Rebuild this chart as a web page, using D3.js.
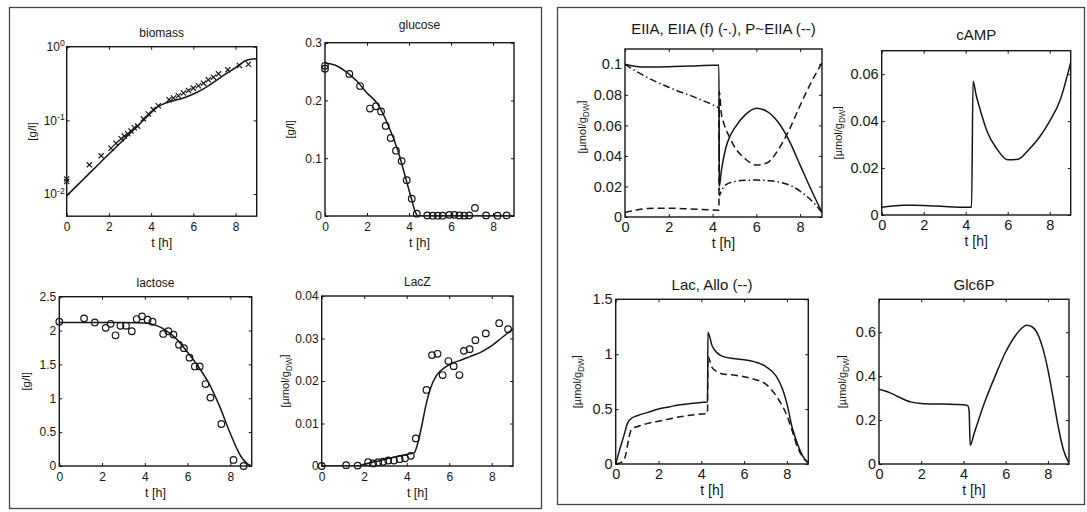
<!DOCTYPE html>
<html><head><meta charset="utf-8">
<script src="https://cdn.jsdelivr.net/npm/d3@7"></script>
<style>
body{margin:0;background:#fff;}
svg{display:block;font-family:"Liberation Sans",Arial,Helvetica,sans-serif;}
</style></head><body>
<svg id="c" width="1087" height="512"></svg>
<script>
// ---------------- data ----------------
const timeTicks = [0, 2, 4, 6, 8];

// biomass [g/l] (log scale)
const biomassObsT = [0,0,1.07,1.63,2.1,2.34,2.58,2.73,2.89,3.05,3.2,3.36,3.63,3.87,4.1,4.34,4.85,5.06,5.29,5.53,5.77,6.0,6.24,6.48,6.71,6.95,7.19,7.63,8.18,8.61];
const biomassObs  = [0.016,0.0148,0.0249,0.033,0.0418,0.0488,0.0564,0.0612,0.0659,0.0715,0.0793,0.0835,0.105,0.122,0.14,0.158,0.191,0.201,0.216,0.235,0.255,0.274,0.295,0.32,0.355,0.386,0.428,0.485,0.555,0.578];
const biomassFitT = [0,0.5,1,1.5,2,2.5,3,3.5,4,4.3,4.6,5,5.5,6,6.5,7,7.5,8,8.5,8.75,9];
const biomassFit  = [0.0095,0.0131,0.0182,0.0252,0.0349,0.0482,0.0667,0.092,0.127,0.152,0.168,0.183,0.2,0.228,0.27,0.335,0.42,0.52,0.65,0.675,0.685];
const biomassTicks = [0.01, 0.1, 1];

// glucose [g/l]
const glucoseObsT = [0,0,1.16,1.67,2.14,2.43,2.67,2.89,3.13,3.38,3.65,3.89,4.13,4.37,4.87,5.13,5.37,5.6,5.92,6.16,6.4,6.63,6.87,7.14,7.67,8.22,8.65];
const glucoseObs  = [0.26,0.255,0.246,0.225,0.186,0.19,0.181,0.156,0.135,0.113,0.095,0.062,0.03,0.004,0.001,0.0005,0.0005,0.0005,0.002,0.002,0.001,0.0005,0.001,0.014,0.001,0.0005,0.001];
const glucoseFitT = [0,0.5,1,1.5,2,2.5,3,3.5,3.9,4.1,4.3,4.45,5,9];
const glucoseFit  = [0.265,0.261,0.25,0.234,0.213,0.194,0.158,0.11,0.058,0.032,0.007,0,0,0];
const glucoseTicks = [0, 0.1, 0.2, 0.3];

// lactose [g/l]
const lactoseObsT = [0,1.16,1.66,2.17,2.4,2.63,2.86,3.12,3.39,3.62,3.87,4.13,4.36,4.86,5.1,5.34,5.6,5.83,6.09,6.34,6.57,6.84,7.07,7.58,8.15,8.62];
const lactoseObs  = [2.13,2.18,2.12,2.04,2.1,1.93,2.07,2.07,1.99,2.17,2.21,2.16,2.13,1.95,1.99,1.94,1.79,1.74,1.6,1.47,1.47,1.21,1.01,0.62,0.09,0.0];
const lactoseFitT = [0,1,2,3,4,4.5,5,5.5,6,6.5,7,7.5,8,8.5,8.8,9];
const lactoseFit  = [2.12,2.12,2.12,2.12,2.11,2.08,2.0,1.87,1.68,1.47,1.22,0.88,0.48,0.14,0.03,0.0];
const lactoseTicks = [0, 0.5, 1, 1.5, 2, 2.5];

// LacZ [umol/gDW]
const laczObsT = [0,1.15,1.69,2.18,2.42,2.66,2.89,3.13,3.4,3.67,3.92,4.19,4.43,4.93,5.19,5.45,5.69,5.96,6.21,6.48,6.69,6.96,7.23,7.72,8.35,8.77];
const laczObs  = [0,0.0002,0.0001,0.0009,0.0006,0.0009,0.001,0.0013,0.0013,0.0016,0.0018,0.0024,0.0065,0.0179,0.0261,0.0264,0.0214,0.0247,0.0235,0.0214,0.0271,0.0275,0.0296,0.0312,0.0336,0.0322];
const laczFitT = [0,1.7,2,2.5,3,3.5,4,4.35,4.5,4.7,4.9,5.1,5.4,5.8,6.2,6.6,7,7.5,8,8.5,9];
const laczFit  = [0,0,0.0004,0.001,0.0016,0.0022,0.0027,0.0031,0.005,0.0093,0.0142,0.018,0.0213,0.0232,0.0243,0.025,0.0258,0.0268,0.0283,0.0303,0.0322];
const laczTicks = [0, 0.01, 0.02, 0.03, 0.04];

// EIIA total (solid), EIIA free (-.), P~EIIA (--)
const eiiaT     = [0,0.25,0.5,1,1.5,2,3,4,4.29,4.31,4.4,4.6,4.8,5,5.5,6,6.5,7,7.5,8,8.5,9];
const eiiaTotal = [0.1,0.0992,0.0986,0.0982,0.0982,0.0984,0.0988,0.0993,0.0993,0.02,0.03,0.045,0.053,0.058,0.067,0.0712,0.069,0.062,0.05,0.034,0.018,0.003];
const eiiaFreeT = [0,0.5,1,1.5,2,2.5,3,3.5,4,4.29,4.31,4.4,4.6,5,5.5,6,6.5,7,7.5,8,8.5,9];
const eiiaFree  = [0.1,0.0955,0.0915,0.088,0.085,0.082,0.0795,0.0765,0.0735,0.071,0.014,0.017,0.021,0.0232,0.024,0.0242,0.0238,0.023,0.021,0.017,0.011,0.003];
const eiiaPT    = [0,0.5,1,2,3,4,4.29,4.31,4.4,4.5,4.75,5,5.5,6,6.5,7,7.5,8,8.5,9];
const eiiaP     = [0.003,0.0045,0.0055,0.0058,0.0052,0.0046,0.0045,0.082,0.068,0.062,0.053,0.046,0.038,0.034,0.0355,0.044,0.057,0.073,0.088,0.101];
const eiiaTicks = [0, 0.02, 0.04, 0.06, 0.08, 0.1];

// cAMP
const campT = [0,0.5,1,1.5,2,3,4,4.28,4.35,4.5,4.75,5,5.5,6,6.5,7,7.5,8,8.5,9];
const campV = [0.0033,0.0038,0.0042,0.0042,0.0041,0.0036,0.0033,0.0033,0.057,0.051,0.043,0.036,0.028,0.0235,0.0238,0.0278,0.033,0.04,0.049,0.065];
const campTicks = [0, 0.02, 0.04, 0.06];

// Lac (solid), Allo (--)
const lacT  = [0,0.2,0.4,0.55,0.7,1,1.5,2,2.5,3,3.5,4,4.29,4.31,4.5,4.75,5,5.5,6,6.5,7,7.5,7.8,8,8.25,8.5,8.75,9];
const lacV  = [0,0.14,0.27,0.37,0.41,0.44,0.47,0.5,0.52,0.54,0.55,0.56,0.565,1.2,1.08,1.01,0.98,0.96,0.95,0.93,0.89,0.8,0.68,0.55,0.33,0.18,0.07,0.01];
const alloT = [0,0.3,0.45,0.6,0.7,0.9,1,1.5,2,2.5,3,3.5,4,4.29,4.31,4.5,4.75,5,5.5,6,6.5,7,7.5,8,8.25,8.5,8.75,9];
const alloV = [0,0.02,0.07,0.22,0.3,0.335,0.34,0.37,0.39,0.41,0.43,0.445,0.455,0.46,0.98,0.88,0.84,0.82,0.81,0.795,0.77,0.73,0.62,0.44,0.3,0.15,0.06,0.01];
const lacTicks = [0, 0.5, 1, 1.5];

// Glc6P
const g6pT = [0,0.5,1,1.5,2,3,4,4.2,4.27,4.32,4.5,5,5.5,6,6.5,7,7.25,7.5,7.75,8,8.25,8.5,8.75,9];
const g6pV = [0.34,0.325,0.302,0.283,0.276,0.273,0.27,0.266,0.24,0.085,0.137,0.28,0.4,0.51,0.59,0.632,0.625,0.595,0.53,0.43,0.3,0.165,0.06,0.005];
const g6pTicks = [0, 0.2, 0.4, 0.6];

// ---------------- layout / style ----------------
const INK = "#161616";
const svg = d3.select("#c");

svg.append("rect").attr("x",9.5).attr("y",7.5).attr("width",532).attr("height",501)
  .attr("fill","none").attr("stroke","#444").attr("stroke-width",1.3);
svg.append("rect").attr("x",557.5).attr("y",7.5).attr("width",527).attr("height",497)
  .attr("fill","none").attr("stroke","#444").attr("stroke-width",1.3);

const zip = (a,b)=>a.map((v,i)=>[v,b[i]]);

function panel(o){
  const g = svg.append("g").attr("transform",`translate(${o.x},${o.y})`);
  const x = d3.scaleLinear().domain([0,9]).range([0,o.w]);
  const y = (o.log ? d3.scaleLog() : d3.scaleLinear()).domain(o.yDomain).range([o.h,0]);
  const fs = o.fs, tk = 3;

  g.append("g").attr("transform",`translate(0,${o.h})`)
    .call(d3.axisBottom(x).tickValues(timeTicks).tickSizeInner(-tk).tickSizeOuter(0).tickPadding(o.xpad).tickFormat(d3.format("d")));
  g.append("g").call(d3.axisTop(x).tickValues(timeTicks).tickSizeInner(-tk).tickSizeOuter(0).tickFormat(""));
  const ya = g.append("g")
    .call(d3.axisLeft(y).tickValues(o.yTicks).tickSizeInner(-tk).tickSizeOuter(0).tickPadding(o.ypad).tickFormat(d=>String(d)));
  g.append("g").attr("transform",`translate(${o.w},0)`)
    .call(d3.axisRight(y).tickValues(o.yTicks).tickSizeInner(-tk).tickSizeOuter(0).tickFormat(""));
  g.selectAll(".domain").remove();
  g.selectAll(".tick line").attr("stroke",INK).attr("stroke-width",1);
  g.selectAll(".tick text").attr("fill",INK).attr("font-size",fs).attr("font-family",null);
  if (o.log){
    ya.selectAll(".tick text").each(function(d){
      const t = d3.select(this); t.text(null);
      t.append("tspan").text("10");
      t.append("tspan").attr("dy","-0.55em").attr("font-size","0.72em").text(String(Math.round(Math.log10(d))));
    });
  }
  g.append("rect").attr("width",o.w).attr("height",o.h).attr("fill","none")
    .attr("stroke",INK).attr("stroke-width",1.4);

  g.append("text").attr("x",o.w/2).attr("y",-o.tgap).attr("text-anchor","middle")
    .attr("font-size",o.tfs).attr("fill",INK).text(o.title);
  g.append("text").attr("x",o.w/2).attr("y",o.h+o.xlab).attr("text-anchor","middle")
    .attr("font-size",o.xfs).attr("fill",INK).text("t [h]");
  const yl = g.append("text").attr("transform",`translate(${o.ylx},${o.h/2+(o.yly||0)}) rotate(-90)`)
    .attr("text-anchor","middle").attr("font-size",o.yfs).attr("fill",INK);
  if (o.ylabel === "umol"){
    yl.append("tspan").text("[µmol/g");
    yl.append("tspan").attr("font-size","0.75em").attr("dy","0.35em").text("DW");
    yl.append("tspan").attr("dy","-0.35em").text("]");
  } else yl.text(o.ylabel);

  const clip = "clip"+o.id;
  g.append("clipPath").attr("id",clip).append("rect").attr("width",o.w).attr("height",o.h);
  const plot = g.append("g").attr("clip-path",`url(#${clip})`);
  const line = d3.line().x(d=>x(d[0])).y(d=>y(d[1])).curve(d3.curveMonotoneX);
  (o.lines||[]).forEach(L=>{
    plot.append("path").datum(zip(L.t,L.v)).attr("d",line).attr("fill","none")
      .attr("stroke",INK).attr("stroke-width",1.5).attr("stroke-dasharray",L.dash||null)
      .attr("stroke-linejoin","round");
  });
  if (o.circles){
    g.append("g").selectAll("circle").data(zip(o.circles.t,o.circles.v)).join("circle")
      .attr("cx",d=>x(d[0])).attr("cy",d=>y(d[1])).attr("r",3.3)
      .attr("fill","none").attr("stroke",INK).attr("stroke-width",1.2);
  }
  if (o.crosses){
    const s = 2.6;
    g.append("g").selectAll("path").data(zip(o.crosses.t,o.crosses.v)).join("path")
      .attr("d",d=>{const cx=x(d[0]),cy=y(d[1]);return `M${cx-s},${cy-s}L${cx+s},${cy+s}M${cx-s},${cy+s}L${cx+s},${cy-s}`;})
      .attr("stroke",INK).attr("stroke-width",1.2);
  }
}

const left = {fs:12, tfs:12, xfs:12.5, yfs:11.5, xpad:6, ypad:3, tgap:10, xlab:31};
const right = {fs:14.5, tfs:15, xfs:14, yfs:11, xpad:5, ypad:3, tgap:10, xlab:31};

panel({...left, id:"bio", x:66.7, y:46.7, w:190, h:169.5, log:true, yDomain:[0.005,1], yTicks:biomassTicks,
  title:"biomass", ylabel:"[g/l]", ylx:-31, ypad:2, tgap:10,
  lines:[{t:biomassFitT, v:biomassFit}], crosses:{t:biomassObsT, v:biomassObs}});
panel({...left, id:"glc", x:325, y:42.7, w:189, h:173.3, yDomain:[0,0.3], yTicks:glucoseTicks,
  title:"glucose", ylabel:"[g/l]", ylx:-31, tgap:14,
  lines:[{t:glucoseFitT, v:glucoseFit}], circles:{t:glucoseObsT, v:glucoseObs}});
panel({...left, id:"lac0", x:59.3, y:296.7, w:192.4, h:169.3, yDomain:[0,2.5], yTicks:lactoseTicks,
  title:"lactose", ylabel:"[g/l]", ylx:-29, tgap:10,
  lines:[{t:lactoseFitT, v:lactoseFit}], circles:{t:lactoseObsT, v:lactoseObs}});
panel({...left, id:"lacz", x:321.7, y:296, w:191.3, h:170, yDomain:[0,0.04], yTicks:laczTicks,
  title:"LacZ", ylabel:"umol", ylx:-33, yfs:11, tgap:10,
  lines:[{t:laczFitT, v:laczFit}], circles:{t:laczObsT, v:laczObs}});

panel({...right, id:"eiia", x:625, y:49, w:197, h:168, yDomain:[0,0.11], yTicks:eiiaTicks,
  title:"EIIA, EIIA (f) (-.), P~EIIA (--)", ylabel:"umol", ylx:-39, yly:-6, tgap:15,
  lines:[{t:eiiaT, v:eiiaTotal},{t:eiiaFreeT, v:eiiaFree, dash:"7,3,1.5,3"},{t:eiiaPT, v:eiiaP, dash:"7,4"}]});
panel({...right, id:"camp", x:881.7, y:50.7, w:189, h:164.3, yDomain:[0,0.07], yTicks:campTicks,
  title:"cAMP", ylabel:"umol", ylx:-40, tgap:11,
  lines:[{t:campT, v:campV}]});
panel({...right, id:"lac", x:615.7, y:299.3, w:192.6, h:164.7, yDomain:[0,1.5], yTicks:lacTicks,
  title:"Lac, Allo (--)", ylabel:"umol", ylx:-35, tgap:9.5,
  lines:[{t:lacT, v:lacV},{t:alloT, v:alloV, dash:"7,4"}]});
panel({...right, id:"g6p", x:879, y:299.3, w:190, h:164.7, yDomain:[0,0.75], yTicks:g6pTicks,
  title:"Glc6P", ylabel:"umol", ylx:-33, tgap:9.5,
  lines:[{t:g6pT, v:g6pV}]});
</script></body></html>
